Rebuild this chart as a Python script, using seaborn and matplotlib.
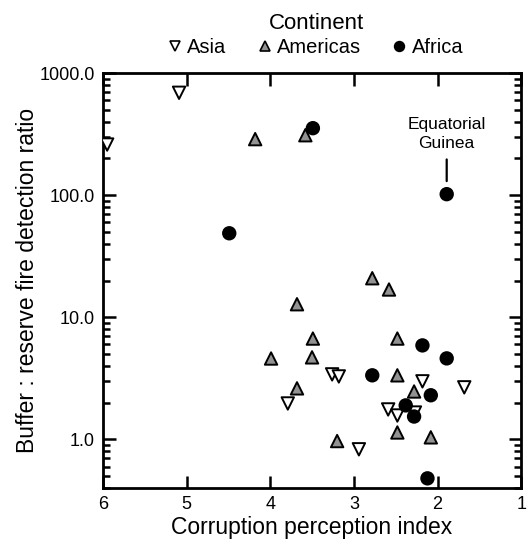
"""Scatter of buffer:reserve fire detection ratio against corruption perception index."""
import matplotlib
matplotlib.use('Agg')
import matplotlib.pyplot as plt
from matplotlib.ticker import FixedLocator, LogLocator, FormatStrFormatter, NullFormatter
import pandas as pd
import seaborn as sns

# values
asia_cpi = [5.95, 5.09, 3.26, 3.18, 3.79, 2.18, 1.68, 2.59, 2.48, 2.27, 2.94]
asia_ratio = [260, 690, 3.41, 3.28, 1.97, 2.99, 2.67, 1.76, 1.57, 1.66, 0.83]

americas_cpi = [4.18, 3.58, 2.78, 2.58, 3.68, 3.49, 2.48, 3.99, 3.50, 2.48, 2.28, 3.68, 2.48, 2.08, 3.20]
americas_ratio = [288, 310, 20.9, 16.9, 12.8, 6.7, 6.7, 4.6, 4.7, 3.35, 2.47, 2.62, 1.14, 1.04, 0.97]

africa_cpi = [3.49, 1.89, 4.49, 2.18, 1.89, 2.78, 2.08, 2.38, 2.28, 2.12]
africa_ratio = [354, 102, 48.8, 5.89, 4.61, 3.35, 2.30, 1.90, 1.54, 0.48]

continents = ['Asia', 'Americas', 'Africa']
x_ticks = [6, 5, 4, 3, 2, 1]
y_ticks = [1, 10, 100, 1000]
annot_label = 'Equatorial\nGuinea'
annot_cpi, annot_ratio = 1.89, 102

df = pd.concat([
    pd.DataFrame({'cpi': asia_cpi, 'ratio': asia_ratio, 'Continent': 'Asia'}),
    pd.DataFrame({'cpi': americas_cpi, 'ratio': americas_ratio, 'Continent': 'Americas'}),
    pd.DataFrame({'cpi': africa_cpi, 'ratio': africa_ratio, 'Continent': 'Africa'}),
], ignore_index=True)

sns.set_style('ticks')
plt.rcParams['font.family'] = ['Liberation Sans', 'DejaVu Sans']
plt.rcParams.update({'text.color': 'black', 'axes.labelcolor': 'black',
                     'xtick.color': 'black', 'ytick.color': 'black',
                     'axes.edgecolor': 'black'})

fig = plt.figure(figsize=(5.28, 5.42), dpi=100)
ax = fig.add_axes([0.195, 0.0996, 0.792, 0.7655])

palette = {'Asia': 'white', 'Americas': '#929292', 'Africa': 'black'}
markers = {'Asia': 'v', 'Americas': '^', 'Africa': 'o'}
sns.scatterplot(data=df, x='cpi', y='ratio', hue='Continent', style='Continent',
                hue_order=continents, style_order=continents,
                palette=palette, markers=markers, s=80,
                edgecolor='black', linewidth=1.4, ax=ax, zorder=3)

ax.set_yscale('log')
ax.set_xlim(6, 1)
ax.set_ylim(0.4, 1000)

ax.xaxis.set_major_locator(FixedLocator(x_ticks))
ax.set_xticklabels([str(t) for t in x_ticks])
ax.yaxis.set_major_locator(FixedLocator(y_ticks))
ax.yaxis.set_major_formatter(FormatStrFormatter('%.1f'))
ax.yaxis.set_minor_locator(LogLocator(base=10, subs=range(2, 10)))
ax.yaxis.set_minor_formatter(NullFormatter())

ax.tick_params(which='both', direction='in', top=True, right=True, width=1.8, labelsize=13)
ax.tick_params(which='major', length=9, pad=6)
ax.tick_params(which='minor', length=5)
for sp in ax.spines.values():
    sp.set_linewidth(2)
    sp.set_visible(True)

ax.set_xlabel('Corruption perception index', fontsize=16.5, labelpad=2)
ax.set_ylabel('Buffer : reserve fire detection ratio', fontsize=16.5, labelpad=0)

# label for the outlier
ax.annotate(annot_label, xy=(annot_cpi, annot_ratio), xytext=(0, 31),
            textcoords='offset points', ha='center', va='bottom', fontsize=12.5,
            linespacing=1.35)
ax.annotate('', xy=(annot_cpi, annot_ratio), xytext=(0, 25), textcoords='offset points',
            arrowprops=dict(arrowstyle='-', lw=1.6, color='black', shrinkA=0, shrinkB=9.4))

sns.move_legend(ax, 'lower center', bbox_to_anchor=(0.51, 1.0), ncol=3, frameon=False,
                title='Continent', fontsize=14.5, title_fontsize=16,
                handlelength=0.6, handletextpad=0.3, columnspacing=1.6,
                borderaxespad=0.4, labelspacing=0.2)
leg = ax.get_legend()
for h in leg.legend_handles:
    h.set_markeredgecolor('black')
    h.set_markeredgewidth(1.2)
    h.set_markersize(7)

fig.savefig('out.png', dpi=100)
